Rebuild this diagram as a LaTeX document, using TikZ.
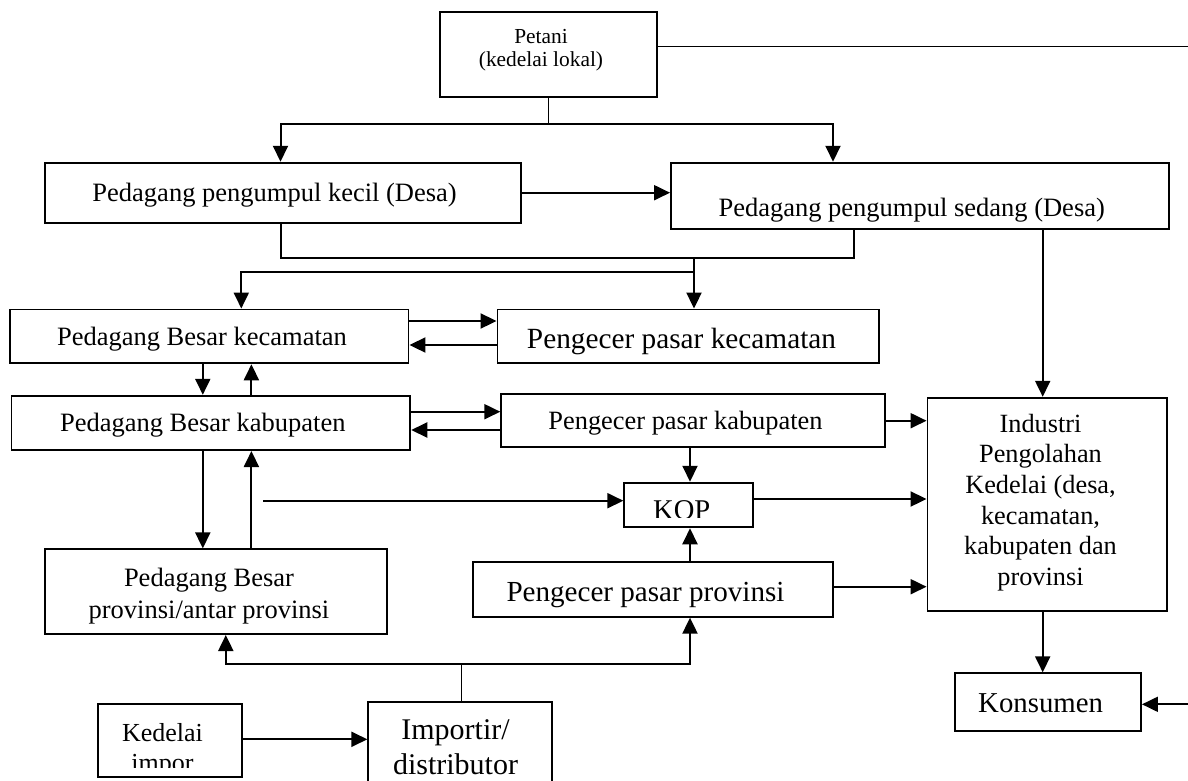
\documentclass[tikz,border=0pt]{standalone}
\usepackage{fontspec}
\setmainfont{Liberation Serif}
\usetikzlibrary{arrows.meta}
\newcommand\setfs[2]{\fontsize{#1}{#2}\selectfont}
\begin{document}
\begin{tikzpicture}[x=1pt,y=-1pt,
  box/.style={draw, line width=1.9pt, rectangle, inner sep=0pt},
  lbl/.style={inner sep=0pt, align=center},
  ln/.style={line width=2pt},
  thinln/.style={line width=1.4pt},
  arr/.style={line width=2pt, -{Triangle[length=16pt,width=15pt]}}
]
\useasboundingbox (0,0) rectangle (1188,780);
\clip (0,0) rectangle (1188,780);

% boxes
\node[box, minimum width=216.7pt, minimum height=85.3pt] (petani) at (548.3,54.7) {};
\node[box, minimum width=475.3pt, minimum height=60pt] (kecil) at (282.9,192.7) {};
\node[box, minimum width=498pt, minimum height=66.6pt] (sedang) at (920,196) {};
\node[box, minimum width=398.2pt, minimum height=53.8pt] (besarkec) at (209.4,336.4) {};
\node[box, minimum width=381.2pt, minimum height=53.8pt] (pengkec) at (688.1,336.4) {};
\node[box, minimum width=398.8pt, minimum height=54.3pt] (besarkab) at (210.9,422.9) {};
\node[box, minimum width=383.5pt, minimum height=53.3pt] (pengkab) at (693,420.7) {};
\node[box, minimum width=128.4pt, minimum height=44.6pt] (kop) at (688.5,505) {};
\node[box, minimum width=239.2pt, minimum height=213.3pt] (industri) at (1047.1,504.4) {};
\node[box, minimum width=342.1pt, minimum height=84.7pt] (besarprov) at (216.3,591.7) {};
\node[box, minimum width=360.7pt, minimum height=54.4pt] (pengprov) at (653,589.5) {};
\node[box, minimum width=186pt, minimum height=57.4pt] (konsumen) at (1048,702) {};
\node[box, minimum width=143.4pt, minimum height=73.3pt] (kedelai) at (170,740.7) {};
\node[box, minimum width=183.4pt, minimum height=90pt] (importir) at (460,746.7) {};

% texts
\node[lbl, font=\setfs{21.4}{23.4}] (petani-t) at (541,49.9) {Petani\\(kedelai lokal)};
\node[lbl, font=\setfs{26.5}{31}] (kecil-t) at (274.6,195.6) {Pedagang pengumpul kecil (Desa)};
\node[lbl, font=\setfs{26.5}{31}] (sedang-t) at (911.7,210.6) {Pedagang pengumpul sedang (Desa)};
\node[lbl, font=\setfs{26.5}{31}] (besarkec-t) at (202,339.6) {Pedagang Besar kecamatan};
\node[lbl, font=\setfs{29.3}{34}] (pengkec-t) at (681.5,341) {Pengecer pasar kecamatan};
\node[lbl, font=\setfs{26.5}{31}] (besarkab-t) at (202.8,425.3) {Pedagang Besar kabupaten};
\node[lbl, font=\setfs{26.4}{31}] (pengkab-t) at (685.5,423.3) {Pengecer pasar kabupaten};
\node[lbl, font=\setfs{26.3}{30.7}] (industri-t) at (1040.5,502.5) {Industri\\Pengolahan\\Kedelai (desa,\\kecamatan,\\kabupaten dan\\provinsi};
\node[lbl, font=\setfs{26.5}{32}] (besarprov-t) at (209,596.6) {Pedagang Besar\\provinsi/antar provinsi};
\node[lbl, font=\setfs{29.1}{34}] (pengprov-t) at (645.5,594.6) {Pengecer pasar provinsi};
\node[lbl, font=\setfs{28.8}{34}] (konsumen-t) at (1040.6,702.7) {Konsumen};
\node[lbl, font=\setfs{30}{35}] (importir-t) at (455.5,747) {Importir/\\distributor};
\begin{scope}
  \clip (kop.north west) rectangle (kop.east |- 0,517.3);
  \node[lbl, font=\setfs{28.6}{34}] (kop-t) at (681.7,510.3) {KOP};
\end{scope}
\begin{scope}
  \clip (kedelai.north west) rectangle (kedelai.east |- 0,767.3);
  \node[lbl, font=\setfs{26}{30}] (kedelai-t) at (162.5,750.7) {Kedelai\\impor};
\end{scope}

% connectors
\coordinate (pj) at (548.3,124.3);
\draw[thinln] (petani.south) -- (pj);
\draw[arr] (pj) -| (kecil.north -| 280.5,0);
\draw[arr] (pj) -| (sedang.north -| 833,0);
\coordinate (e1) at (1188,46.7);
\draw[thinln] (petani.east |- e1) -- (e1);
\draw[arr] (kecil.east) -- (kecil.east -| sedang.west);

\coordinate (bl) at (280.5,258.3);
\coordinate (br) at (854.3,258.3);
\coordinate (bm) at (694,258.3);
\coordinate (bj) at (694,271.7);
\draw[ln] (kecil.south -| bl) -- (bl) -- (br) -- (sedang.south -| br);
\draw[arr] (bm) -- (pengkec.north -| bm);
\draw[arr] (bj) -| (besarkec.north -| 241.3,0);
\draw[arr] (sedang.south -| 1042.7,0) -- (industri.north -| 1042.7,0);

\draw[arr] (besarkec.east |- 0,321) -- (pengkec.west |- 0,321);
\draw[arr] (pengkec.west |- 0,345) -- (besarkec.east |- 0,345);
\draw[arr] (besarkec.south -| 202.8,0) -- (besarkab.north -| 202.8,0);
\draw[arr] (besarkab.north -| 251.4,0) -- (besarkec.south -| 251.4,0);

\draw[arr] (besarkab.east |- 0,411.7) -- (pengkab.west |- 0,411.7);
\draw[arr] (pengkab.west |- 0,430) -- (besarkab.east |- 0,430);
\draw[arr] (besarkab.south -| 202.8,0) -- (besarprov.north -| 202.8,0);
\draw[arr] (besarprov.north -| 251.4,0) -- (besarkab.south -| 251.4,0);

\coordinate (ks) at (263,500.7);
\draw[arr] (ks) -- (kop.west |- ks);
\draw[arr] (pengkab.south -| 690,0) -- (kop.north -| 690,0);
\draw[arr] (pengprov.north -| 690,0) -- (kop.south -| 690,0);
\draw[arr] (pengkab.east |- 0,420.7) -- (industri.west |- 0,420.7);
\draw[arr] (kop.east |- 0,499) -- (industri.west |- 0,499);
\draw[arr] (pengprov.east |- 0,586.7) -- (industri.west |- 0,586.7);
\draw[arr] (industri.south -| 1042.7,0) -- (konsumen.north -| 1042.7,0);
\coordinate (e2) at (1188,704.3);
\draw[arr] (e2) -- (konsumen.east |- e2);

\coordinate (ij) at (461.7,664);
\draw[thinln] (importir.north -| ij) -- (ij);
\draw[arr] (ij) -| (besarprov.south -| 225.8,0);
\draw[arr] (ij) -| (pengprov.south -| 690,0);
\draw[arr] (kedelai.east |- 0,739.3) -- (importir.west |- 0,739.3);
\end{tikzpicture}
\end{document}
